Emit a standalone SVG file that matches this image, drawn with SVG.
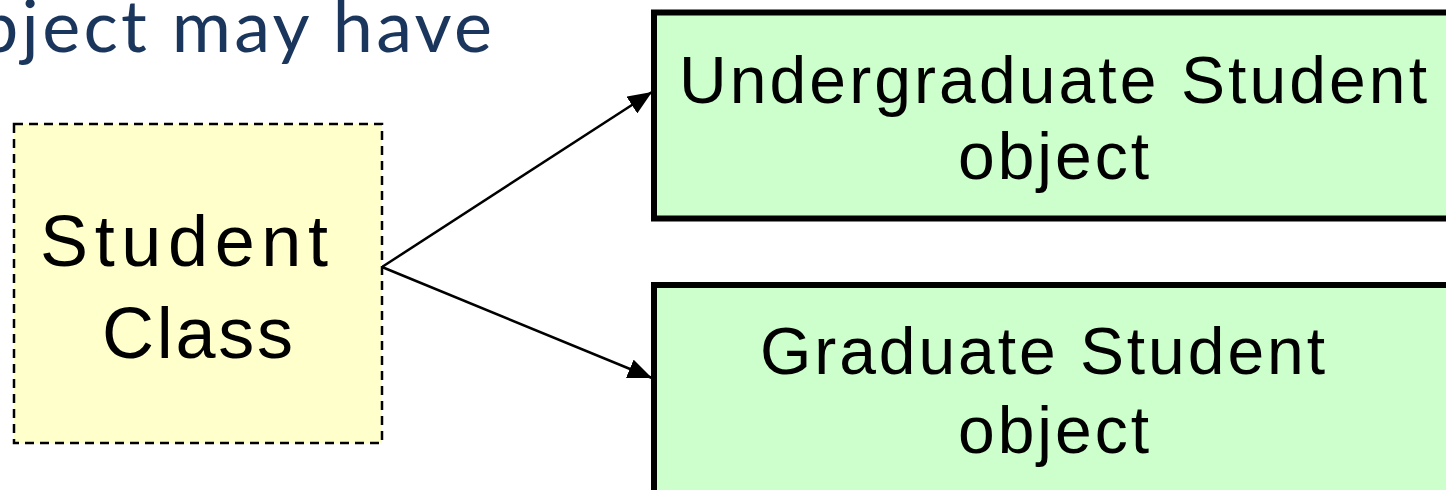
<svg xmlns="http://www.w3.org/2000/svg" width="1446" height="490" viewBox="0 0 1446 490">
  <style>
    .heading { font-family: Lato, "Open Sans", sans-serif; font-size: 72px; fill: #1b365d; }
    .label { font-family: "Liberation Sans", Arial, sans-serif; fill: #000000; }
    .cls { fill: #ffffcc; stroke: #000000; stroke-width: 2.5; stroke-dasharray: 9 6; }
    .obj { fill: #ccffcc; stroke: #000000; stroke-width: 6; }
    .link { fill: none; stroke: #000000; stroke-width: 2.5; marker-end: url(#arrow); }
  </style>
  <defs>
    <marker id="arrow" viewBox="0 0 24 20" refX="24" refY="10" markerWidth="24" markerHeight="20" markerUnits="userSpaceOnUse" orient="auto">
      <path d="M0,0 L24,10 L0,20 Z" fill="#000000"/>
    </marker>
  </defs>

  <rect width="1446" height="490" fill="#ffffff"/>

  <!-- slide heading, running off the left edge -->
  <text class="heading" x="-22" y="52" textLength="514" lengthAdjust="spacing">bject may have</text>

  <!-- connectors -->
  <g id="connectors">
    <line class="link" x1="382" y1="267" x2="652" y2="92"/>
    <line class="link" x1="382" y1="267" x2="652" y2="378"/>
  </g>

  <!-- class node -->
  <g id="student-class">
    <rect class="cls" x="14" y="124" width="368" height="319"/>
    <text class="label" x="40" y="266" font-size="72" textLength="288" lengthAdjust="spacing">Student</text>
    <text class="label" x="102" y="358" font-size="72" textLength="191" lengthAdjust="spacing">Class</text>
  </g>

  <!-- object nodes -->
  <g id="undergraduate-object">
    <rect class="obj" x="654" y="12.5" width="900" height="206"/>
    <text class="label" x="679" y="103" font-size="66" textLength="748" lengthAdjust="spacing">Undergraduate Student</text>
    <text class="label" x="958" y="179" font-size="66" textLength="191" lengthAdjust="spacing">object</text>
  </g>

  <g id="graduate-object">
    <rect class="obj" x="654" y="285" width="900" height="300"/>
    <text class="label" x="760" y="374" font-size="66" textLength="565" lengthAdjust="spacing">Graduate Student</text>
    <text class="label" x="958" y="453" font-size="66" textLength="191" lengthAdjust="spacing">object</text>
  </g>
</svg>
